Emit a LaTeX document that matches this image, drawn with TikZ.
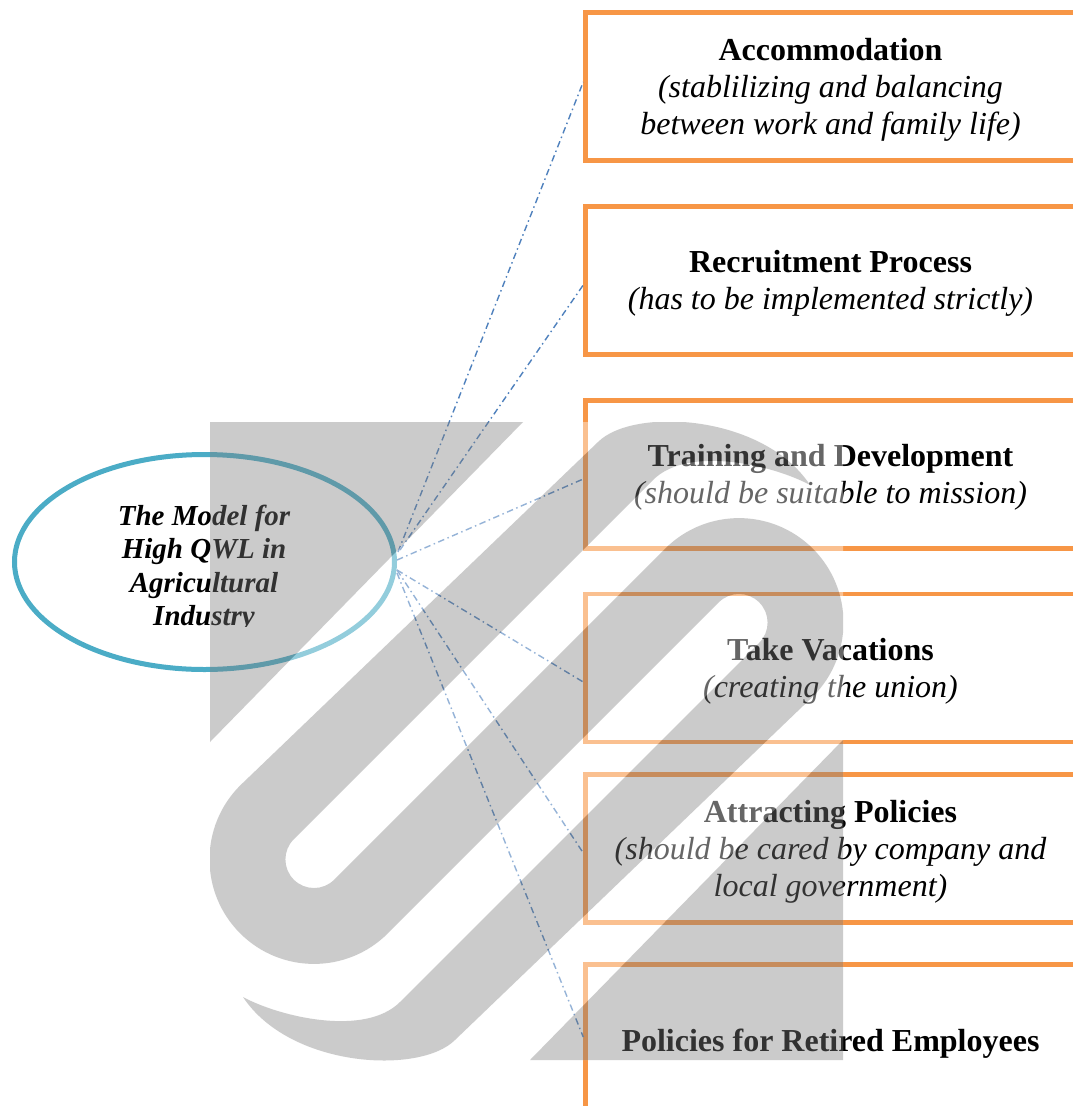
\documentclass[tikz,border=0pt]{standalone}
\usepackage{fontspec}
\setmainfont{Liberation Serif}
\usetikzlibrary{shapes.geometric,calc}
\definecolor{boxorange}{RGB}{247,150,70}
\definecolor{hubteal}{RGB}{75,172,198}
\definecolor{linkblue}{RGB}{79,129,189}
\definecolor{wmgray}{RGB}{127,127,127}
\newcommand{\topfix}[1]{\rule{0pt}{#1}}
\begin{document}
\begin{tikzpicture}[x=1pt,y=-1pt,
  infobox/.style={draw=boxorange, line width=4.5pt, minimum width=490pt, minimum height=148pt,
    inner sep=0pt, align=center, font=\fontsize{32}{37}\selectfont},
  hub/.style={ellipse, draw=hubteal, line width=5pt, minimum width=380pt, minimum height=215pt, inner sep=0pt},
  hubtextstyle/.style={align=center, inner sep=0pt, font=\fontsize{29}{33.2}\selectfont\bfseries\itshape},
  link/.style={draw=linkblue, line width=1.4pt, dash pattern=on 6.5pt off 3.5pt on 1.5pt off 3.5pt},
  wmfill/.style={fill=wmgray}]
\useasboundingbox (0,0) rectangle (1073,1106);
\fill[white] (0,0) rectangle (1073,1106);
\clip (0,0) rectangle (1073,1106);

% boxes
\node[infobox] (acc) at (830.5,86.5) {\topfix{28pt}\textbf{Accommodation}\\\textit{(stablilizing and balancing}\\\textit{between work and family life)}};
\node[infobox] (rec) at (830.5,280.5) {\topfix{28pt}\textbf{Recruitment Process}\\\textit{(has to be implemented strictly)}};
\node[infobox] (trn) at (830.5,474.25) {\topfix{28pt}\textbf{Training and Development}\\\textit{(should be suitable to mission)}};
\node[infobox] (vac) at (830.5,668) {\topfix{28pt}\textbf{Take Vacations}\\\textit{(creating the union)}};
\node[infobox] (att) at (830.5,848.5) {\topfix{28pt}\textbf{Attracting Policies}\\\textit{(should be cared by company and}\\\textit{local government)}};
\node[infobox] (pol) at (830.5,1038.5) {\topfix{32pt}\textbf{Policies for Retired Employees}};

% hub ellipse
\node[hub] (hub) at (204.5,562) {};
\begin{scope}
  \clip (0,0) rectangle (1073,626);
  \node[hubtextstyle] (hubtext) at (204,568.5) {The Model for\\High QWL in\\Agricultural\\Industry};
\end{scope}

% connectors
\draw[link] ($(hub.east)+(1,-10)$) -- ($(acc.west)+(0,-4.5)$);
\draw[link] ($(hub.east)+(3,-12)$) -- ($(rec.west)+(0,4.5)$);
\draw[link] ($(hub.east)+(0,-2)$) -- ($(trn.west)+(0,4.75)$);
\draw[link] ($(hub.east)+(0,8)$) -- ($(vac.west)+(0,14)$);
\draw[link] ($(hub.east)+(0,8)$) -- ($(att.west)+(0,4.5)$);
\draw[link] ($(hub.east)+(0,11)$) -- ($(pol.west)+(0,-1.5)$);

% watermark (point-symmetric about (526.5,741))
\begin{scope}[transparency group, opacity=0.4]
  \clip (210,422) rectangle (843,1060);
  \fill[white] (210,422) rectangle (843,1060);
  \fill[wmfill] (210,422) -- (523,422) -- (210,742) -- cycle;
  \fill[wmfill] (843,740) -- (843,1060) -- (530,1060) -- cycle;
  \fill[wmfill] (243,997) .. controls (280,1017) and (365,1037) .. (400,1002)
    -- (759.2,642.8)
    arc[start angle=45, end angle=-135, radius=28.6]
    -- (387.9,933.3)
    arc[start angle=45, end angle=225, radius=104.5]
    -- (598,442)
    .. controls (633,407) and (763,414) .. (810,485)
    .. controls (773,465) and (688,445) .. (653,480)
    -- (293.8,839.2)
    arc[start angle=225, end angle=45, radius=28.6]
    -- (665.1,548.7)
    arc[start angle=225, end angle=405, radius=104.5]
    -- (455,1040)
    .. controls (420,1075) and (290,1068) .. (243,997)
    -- cycle;
\end{scope}
\end{tikzpicture}
\end{document}
